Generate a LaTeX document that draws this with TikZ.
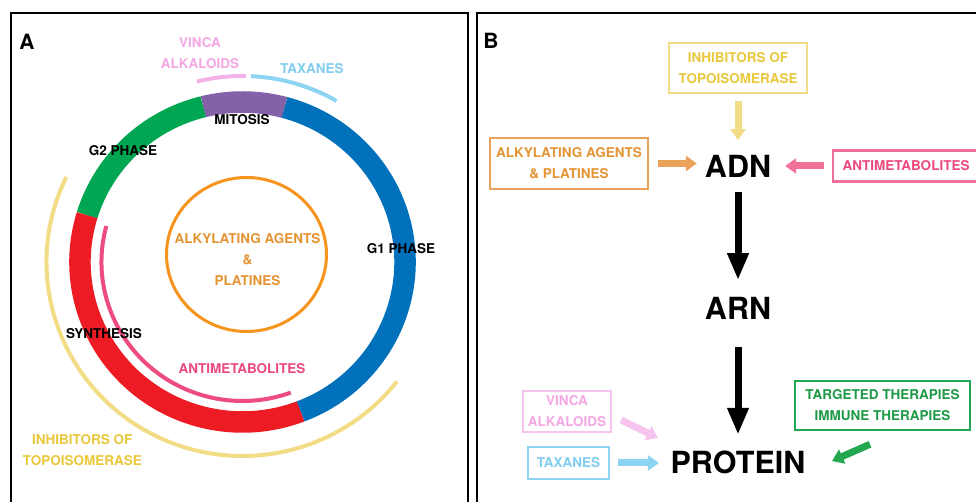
\documentclass[tikz,border=0pt]{standalone}
\usepackage{fontspec}
\setmainfont{TeX Gyre Heros}
\usetikzlibrary{arrows.meta,calc}

% cell-cycle ring
\definecolor{ringgreen}{HTML}{00A651}
\definecolor{ringpurple}{HTML}{8561A9}
\definecolor{ringblue}{HTML}{0071BA}
\definecolor{ringred}{HTML}{ED1C24}
% drug classes
\definecolor{alkcircle}{HTML}{F7941D}
\definecolor{alktext}{HTML}{E59434}
\definecolor{alkbox}{HTML}{E9A25A}
\definecolor{antiarc}{HTML}{EE4B7E}
\definecolor{antitext}{HTML}{EC4A7D}
\definecolor{antibox}{HTML}{F27199}
\definecolor{topoarc}{HTML}{F2DD86}
\definecolor{topotext}{HTML}{EAC83C}
\definecolor{vincaarc}{HTML}{F4B3E8}
\definecolor{vincatext}{HTML}{F3A8E4}
\definecolor{vincabox}{HTML}{F7C4EE}
\definecolor{taxarc}{HTML}{8DD3F2}
\definecolor{taxtext}{HTML}{80CDEF}
\definecolor{targgreen}{HTML}{22A650}
\definecolor{targtext}{HTML}{1F9A48}

\begin{document}
\begin{tikzpicture}[x=1pt,y=1pt,
  txt/.style={font=\fontsize{13.5}{21}\selectfont\bfseries, align=center, inner sep=0pt},
  huge/.style={font=\fontsize{30.5}{34}\selectfont\bfseries, inner sep=0pt},
  paneltag/.style={font=\fontsize{21}{24}\selectfont\bfseries, inner sep=0pt},
  ring/.style={line width=21.5pt},
  thinarc/.style={line width=4pt},
  drugbox/.style={draw, line width=2.5pt, inner sep=0pt},
  fat/.style={line width=7pt, -{Triangle[length=11pt,width=15pt]}},
  flow/.style={line width=7pt, -{Triangle[length=27pt,width=20pt]}},
]
\useasboundingbox (0,0) rectangle (976,502);
\clip (0,0) rectangle (976,502);
\fill[white] (0,0) rectangle (976,502);

% panel frames
\draw[line width=2pt] (11,489.3) rectangle (468,-10);
\draw[line width=2pt] (477,489.3) rectangle (990,-10);

%% ---------------- Panel A: cell cycle ----------------
\node[paneltag] (tagA) at (27,460) {A};
\coordinate (c) at (242.5,240);

\draw[ring, ringpurple] (c) ++(75:162.5 and 160) arc[start angle=75, end angle=104, x radius=162.5, y radius=160];
\draw[ring, ringgreen]  (c) ++(104:162.5 and 160) arc[start angle=104, end angle=163, x radius=162.5, y radius=160];
\draw[ring, ringred]    (c) ++(163:162.5 and 160) arc[start angle=163, end angle=291, x radius=162.5, y radius=160];
\draw[ring, ringblue]   (c) ++(291:162.5 and 160) arc[start angle=291, end angle=435, x radius=162.5, y radius=160];

% drug arcs around the ring
\draw[thinarc, antiarc]  (c) ++(165:141 and 139) arc[start angle=165, end angle=290, x radius=141, y radius=139];
\draw[thinarc, topoarc]  (c) ++(154:196 and 194) arc[start angle=154, end angle=322, x radius=196, y radius=194];
\draw[thinarc, vincaarc] (c) ++(89:188 and 186) arc[start angle=89, end angle=104, x radius=188, y radius=186];
\draw[thinarc, taxarc]   (c) ++(60:188 and 186) arc[start angle=60, end angle=87.4, x radius=188, y radius=186];

% central circle
\draw[alkcircle, line width=3pt] (246.5,247.5) ellipse[x radius=80, y radius=77];

% labels
\node[txt, text=vincatext] (vincaA) at (200,448.5) {VINCA\\ALKALOIDS};
\node[txt, text=taxtext] (taxA) at (312,433) {TAXANES};
\node[txt] (mitosis) at (242,382) {MITOSIS};
\node[txt] (g2) at (123,351) {G2 PHASE};
\node[txt] (g1) at (401,253) {G1 PHASE};
\node[txt, text=alktext] (alkA) at (247.5,242) {ALKYLATING AGENTS\\\&\\PLATINES};
\node[txt] (synth) at (104,168) {SYNTHESIS};
\node[txt, text=antitext] (antiA) at (242,133) {ANTIMETABOLITES};
\node[txt, text=topotext] (topoA) at (82.3,51.5) {INHIBITORS OF\\TOPOISOMERASE};

%% ---------------- Panel B: ADN -> ARN -> PROTEIN ----------------
\node[paneltag] (tagB) at (491,461) {B};

\node[huge] (adn) at (738,336) {ADN};
\node[huge] (arn) at (738,194) {ARN};
\node[huge] (prot) at (738,40) {PROTEIN};

\node[drugbox, draw=topoarc, text=topotext, minimum width=138pt, minimum height=50pt, txt] (inh) at (738,434) {INHIBITORS OF\\TOPOISOMERASE};
\node[drugbox, draw=alkbox, text=alktext, minimum width=158pt, minimum height=51pt, txt] (alk) at (569,338.5) {ALKYLATING AGENTS\\\& PLATINES};
\node[drugbox, draw=antibox, text=antitext, minimum width=146pt, minimum height=31pt, txt] (anti) at (906,336) {ANTIMETABOLITES};
\node[drugbox, draw=vincabox, text=vincatext, minimum width=88pt, minimum height=41pt, txt] (vinca) at (567,90.5) {VINCA\\ALKALOIDS};
\node[drugbox, draw=taxarc, text=taxtext, minimum width=81pt, minimum height=32pt, txt] (tax) at (568.5,39) {TAXANES};
\node[drugbox, draw=targgreen, text=targtext, minimum width=175pt, minimum height=49pt, txt] (targ) at (882.5,96.5) {TARGETED THERAPIES\\IMMUNE THERAPIES};

% main flow
\draw[flow, shorten <=14.5pt, shorten >=16.5pt] (adn.south) -- (arn.north);
\draw[flow, shorten <=27.5pt, shorten >=15.5pt] (arn.south) -- (prot.north);

% drug arrows
\draw[fat, topoarc, shorten <=7pt, shorten >=14.5pt] (inh.south) -- (adn.north);
\draw[fat, alkbox, shorten <=9pt, shorten >=8pt] (alk.east) -- (alk.east -| adn.west);
\draw[fat, antibox, shorten <=8pt, shorten >=14pt] (anti.west) -- (anti.west -| adn.east);
\draw[fat, vincabox] ($(vinca.east)+(9,-8.5)$) -- ($(prot.west)+(-12.5,24)$);
\draw[fat, taxarc, shorten <=8pt, shorten >=11.5pt] (tax.east) -- (tax.east -| prot.west);
\draw[fat, targgreen] ($(targ.south)+(-12.5,-13)$) -- ($(prot.east)+(26.5,1)$);
\end{tikzpicture}
\end{document}
